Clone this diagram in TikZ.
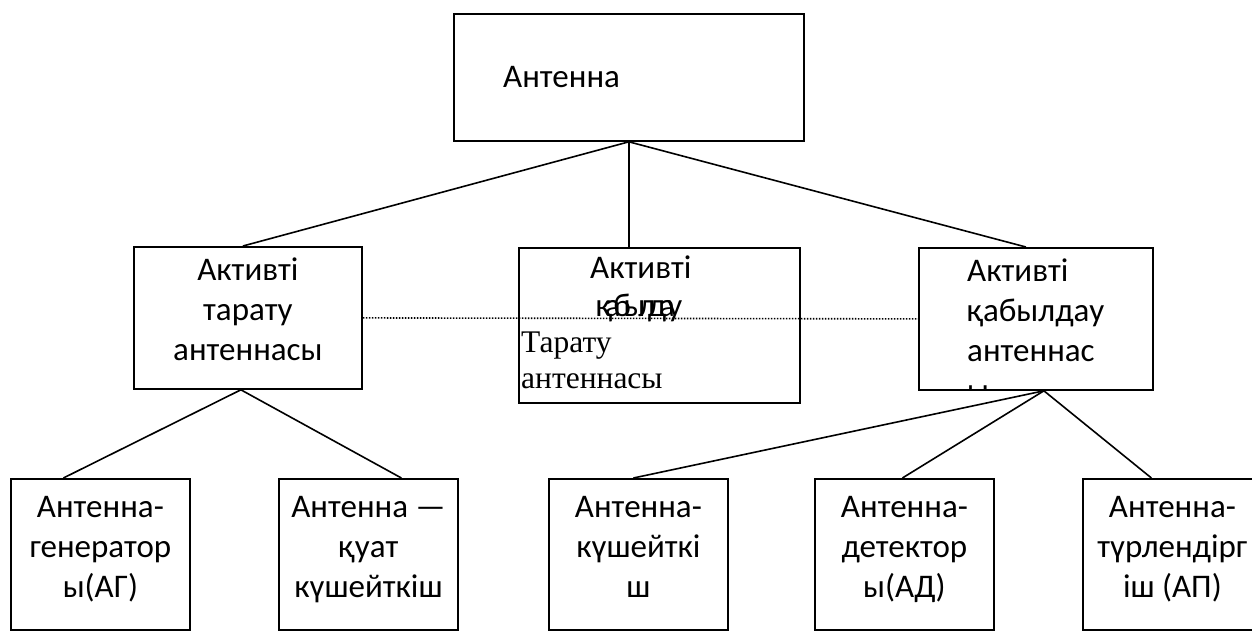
\documentclass[tikz,border=0pt]{standalone}
\usepackage{fontspec}
\setmainfont{Carlito}
\newfontfamily\serifkz{Liberation Serif}
\usetikzlibrary{positioning}

\begin{document}
\begin{tikzpicture}[x=1pt, y=-1pt,
  box/.style={draw, line width=1.8pt, anchor=north west, inner sep=0pt},
  leaf/.style={box, minimum width=179pt, minimum height=151pt},
  txt/.style={font=\fontsize{33}{40}\selectfont, align=center, anchor=north,
              inner sep=0pt},
  word/.style={font=\fontsize{33}{40}\selectfont, anchor=base west, inner sep=0pt},
  link/.style={line width=1.6pt},
]
\useasboundingbox (0,0) rectangle (1252,630);
\clip (0,0) rectangle (1252,630);

\node[box, minimum width=350pt, minimum height=127pt] (antenna) at (453,13) {};
\node[box, minimum width=228pt, minimum height=142pt] (tarat)   at (133,246) {};
\node[box, minimum width=281pt, minimum height=155pt] (mixed)   at (518,247) {};
\node[box, minimum width=234pt, minimum height=142pt] (qabyl)   at (918,247) {};

\node[leaf] (gen)   at (10,478)   {};
\node[leaf] (power) at (278,478)  {};
\node[leaf] (amp)   at (548,478)  {};
\node[leaf] (det)   at (814,478)  {};
\node[leaf] (conv)  at (1082,478) {};

\node[word] (antennatxt) at ([shift={(50,74)}]antenna.north west) {Антенна};
\node[txt] (taratxt) at ([shift={(0,6)}]tarat.north) {\strut Активті\\тарату\\антеннасы};
\node[word] (mixedtop) at ([shift={(72,31)}]mixed.north west) {Активті};
\node[word] (mixedsqz) at ([shift={(78,69)}]mixed.north west)
  {\addfontfeature{LetterSpace=-22}қабылдау};
\node[word, font=\serifkz\fontsize{31.5}{36}\selectfont, align=left,
      anchor=north west] (mixedser)
  at ([shift={(3,80)}]mixed.north west) {\strut Тарату\\антеннасы};

% text that runs past the box bottom is cut off by the frame
\begin{scope}
  \clip (qabyl.north west) rectangle (qabyl.south east);
  \node[txt, align=left, anchor=north west] (qabyltxt)
    at ([shift={(49,6)}]qabyl.north west) {\strut Активті\\қабылдау\\антеннас\\ы};
\end{scope}

\node[txt] (gentxt)   at ([shift={(0,11)}]gen.north)   {\strut Антенна-\\генератор\\ы(АГ)};
\node[txt] (powertxt) at ([shift={(0,11)}]power.north) {\strut Антенна —\\қуат\\күшейткіш};
\node[txt] (amptxt)   at ([shift={(0,11)}]amp.north)   {\strut Антенна-\\күшейткі\\ш};
\node[txt] (dettxt)   at ([shift={(0,11)}]det.north)   {\strut Антенна-\\детектор\\ы(АД)};
\node[txt] (convtxt)  at ([shift={(0,11)}]conv.north)  {\strut Антенна-\\түрлендірг\\іш (АП)};

\draw[link] (antenna.south) -- ([xshift=-5]tarat.north);
\draw[link] (antenna.south) -- ([xshift=-30.5]mixed.north);
\draw[link] (antenna.south) -- ([xshift=-10]qabyl.north);

\draw[link] ([xshift=-7]tarat.south) -- ([xshift=-37]gen.north);
\draw[link] ([xshift=-7]tarat.south) -- ([xshift=33]power.north);

\draw[link] ([xshift=8]qabyl.south) -- ([xshift=-5]amp.north);
\draw[link] ([xshift=8]qabyl.south) -- ([xshift=-2]det.north);
\draw[link] ([xshift=8]qabyl.south) -- ([xshift=-21]conv.north);

\draw[link, dash pattern=on 1.6pt off 1.4pt] (tarat.east) -- (qabyl.west);

\end{tikzpicture}
\end{document}
